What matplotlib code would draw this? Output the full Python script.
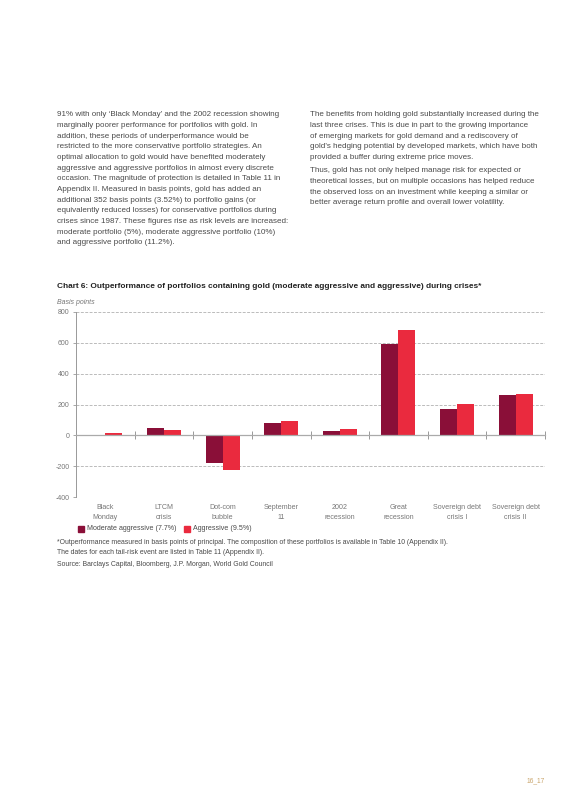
import matplotlib.pyplot as plt
import matplotlib.transforms as mtransforms
import numpy as np

plt.rcParams['font.family'] = ['Liberation Sans', 'DejaVu Sans']

# Data
crises = ['Black\nMonday', 'LTCM\ncrisis', 'Dot-com\nbubble', 'September\n11',
          '2002\nrecession', 'Great\nrecession', 'Sovereign debt\ncrisis I',
          'Sovereign debt\ncrisis II']
moderate_aggr = [4, 45, -182, 78, 28, 592, 171, 262]
aggressive = [17, 32, -223, 91, 41, 683, 201, 270]
yticks = [-400, -200, 0, 200, 400, 600, 800]

c_mod = '#8a0f38'
c_agg = '#ea2a3e'
txt = '#4a4a4a'

left_par = [
    "91% with only \u2018Black Monday\u2019 and the 2002 recession showing",
    "marginally poorer performance for portfolios with gold. In",
    "addition, these periods of underperformance would be",
    "restricted to the more conservative portfolio strategies. An",
    "optimal allocation to gold would have benefited moderately",
    "aggressive and aggressive portfolios in almost every discrete",
    "occasion. The magnitude of protection is detailed in Table 11 in",
    "Appendix II. Measured in basis points, gold has added an",
    "additional 352 basis points (3.52%) to portfolio gains (or",
    "equivalently reduced losses) for conservative portfolios during",
    "crises since 1987. These figures rise as risk levels are increased:",
    "moderate portfolio (5%), moderate aggressive portfolio (10%)",
    "and aggressive portfolio (11.2%).",
]
right_par1 = [
    "The benefits from holding gold substantially increased during the",
    "last three crises. This is due in part to the growing importance",
    "of emerging markets for gold demand and a rediscovery of",
    "gold\u2019s hedging potential by developed markets, which have both",
    "provided a buffer during extreme price moves.",
]
right_par2 = [
    "Thus, gold has not only helped manage risk for expected or",
    "theoretical losses, but on multiple occasions has helped reduce",
    "the observed loss on an investment while keeping a similar or",
    "better average return profile and overall lower volatility.",
]

W, H = 573, 810
fig = plt.figure(figsize=(W / 100, H / 100), dpi=100)


def ptext(x, y, s, **kw):
    # place text using pixel coordinates from the top-left corner
    kw.setdefault('fontsize', 5.8)
    kw.setdefault('color', txt)
    fig.text(x / W, 1 - y / H, s, va='center', ha=kw.pop('ha', 'left'), **kw)


for i, line in enumerate(left_par):
    ptext(57, 115 + i * 10.65, line)
for i, line in enumerate(right_par1):
    ptext(310, 115 + i * 10.65, line)
for i, line in enumerate(right_par2):
    ptext(310, 171 + i * 10.65, line)

ptext(57, 287, "Chart 6: Outperformance of portfolios containing gold "
      "(moderate aggressive and aggressive) during crises*",
      fontsize=5.95, fontweight='bold', color='#222222')
ptext(57, 302, "Basis points", fontsize=5.0, style='italic', color='#777777')

ax = fig.add_axes([76 / W, 1 - 497 / H, (545 - 76) / W, (497 - 312) / H])
x = np.arange(len(crises))
bw = 0.29
ax.bar(x - bw / 2, moderate_aggr, bw, color=c_mod, zorder=3)
ax.bar(x + bw / 2, aggressive, bw, color=c_agg, zorder=3)

ax.set_xlim(-0.5, len(crises) - 0.5)
ax.set_ylim(-400, 800)
ax.set_yticks(yticks)
ax.set_yticklabels([str(v) for v in yticks])
for v in yticks:
    if v != 0:
        ax.axhline(v, color='#bbbbbb', lw=0.7, ls=(0, (3, 1.5)), zorder=1)

for s in ['top', 'right']:
    ax.spines[s].set_visible(False)
ax.spines['left'].set_color('#999999')
ax.spines['left'].set_linewidth(0.7)
ax.spines['bottom'].set_position(('data', 0))
ax.spines['bottom'].set_color('#aaaaaa')
ax.spines['bottom'].set_linewidth(0.9)
ax.spines['bottom'].set_zorder(4)

ax.set_xticks(np.arange(len(crises) + 1) - 0.5)
ax.tick_params(axis='x', direction='inout', length=6, width=0.7,
               color='#999999', labelbottom=False)
ax.tick_params(axis='y', length=2.5, width=0.6, color='#999999',
               labelsize=5.0, labelcolor='#777777', pad=2)

trans = mtransforms.blended_transform_factory(ax.transData, ax.transAxes)
for i, lab in enumerate(crises):
    ax.text(i, -0.04, lab, transform=trans, ha='center', va='top',
            fontsize=5.1, color='#777777', linespacing=1.5)

# legend
fig.patches.append(plt.Rectangle((78 / W, 1 - 532 / H), 6 / W, 6 / H,
                                 transform=fig.transFigure, color=c_mod))
ptext(87, 529, "Moderate aggressive (7.7%)", fontsize=5.1)
fig.patches.append(plt.Rectangle((184 / W, 1 - 532 / H), 6 / W, 6 / H,
                                 transform=fig.transFigure, color=c_agg))
ptext(193, 529, "Aggressive (9.5%)", fontsize=5.1)

ptext(57, 543, "*Outperformance measured in basis points of principal. The composition "
      "of these portfolios is available in Table 10 (Appendix II).", fontsize=4.95)
ptext(57, 552, "The dates for each tail-risk event are listed in Table 11 (Appendix II).",
      fontsize=4.95)
ptext(57, 564, "Source: Barclays Capital, Bloomberg, J.P. Morgan, World Gold Council",
      fontsize=4.95)

ptext(545, 781, "16_17", fontsize=4.8, color='#c9a46a', ha='right')

fig.savefig('out.png', dpi=100, facecolor='white')
